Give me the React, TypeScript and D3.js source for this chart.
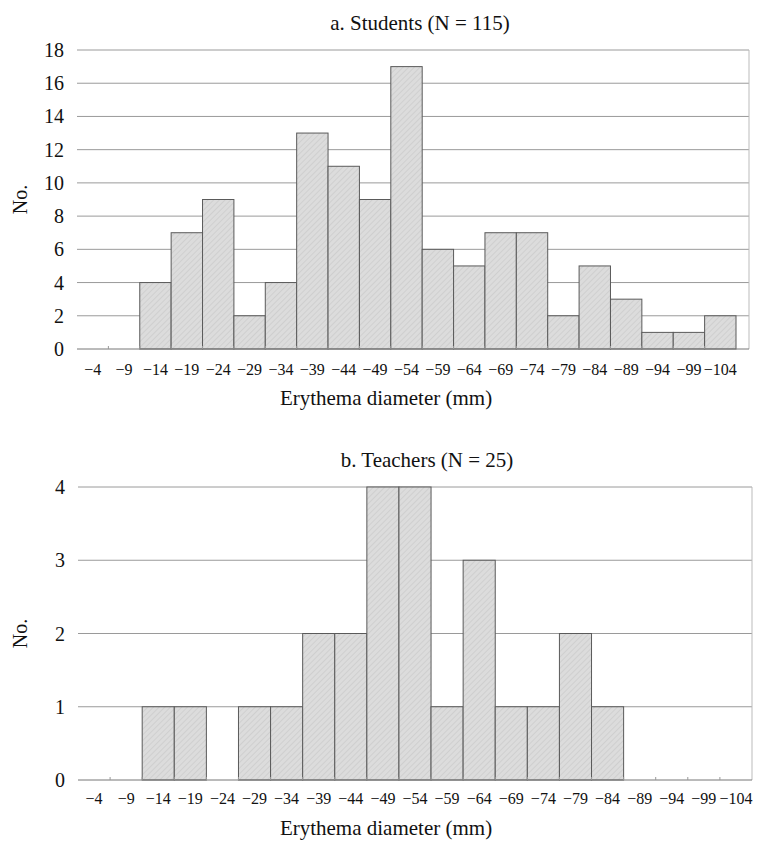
import React from "react";
import * as d3 from "d3";

// erythema diameter bins (mm)
const bins = ["−4", "−9", "−14", "−19", "−24", "−29", "−34", "−39", "−44", "−49", "−54",
  "−59", "−64", "−69", "−74", "−79", "−84", "−89", "−94", "−99", "−104"];

// counts per bin
const studentCounts = [0, 0, 4, 7, 9, 2, 4, 13, 11, 9, 17, 6, 5, 7, 7, 2, 5, 3, 1, 1, 2];
const teacherCounts = [0, 0, 1, 1, 0, 1, 1, 2, 2, 4, 4, 1, 3, 1, 1, 2, 1, 0, 0, 0, 0];

const studentTicks = [0, 2, 4, 6, 8, 10, 12, 14, 16, 18];
const teacherTicks = [0, 1, 2, 3, 4];

const FONT = "Liberation Serif, Times New Roman, serif";

type HistProps = {
  title: string;
  counts: number[];
  ticks: number[];
  left: number;
  right: number;     // right edge of plot frame
  barsRight: number; // right edge of last band
  top: number;
  bottom: number;
  titleY: number;
  tickLabelY: number;
  axisTitleY: number;
  titleX: number;
};

function Histogram(p: HistProps) {
  const x = d3.scaleBand<string>().domain(bins).range([p.left, p.barsRight]).paddingInner(0).paddingOuter(0);
  const y = d3.scaleLinear().domain([0, d3.max(p.ticks) as number]).range([p.bottom, p.top]);
  const bw = x.bandwidth();

  return (
    <g>
      <text x={p.titleX} y={p.titleY} textAnchor="middle" fontFamily={FONT} fontSize={21} fill="#111">
        {p.title}
      </text>
      {/* gridlines */}
      {p.ticks.filter(t => t > 0).map(t => (
        <line key={"g" + t} x1={p.left} x2={p.right} y1={y(t)} y2={y(t)} stroke="#9a9a9a" strokeWidth={1} />
      ))}
      {/* right frame */}
      <line x1={p.right} x2={p.right} y1={p.top} y2={p.bottom} stroke="#bbb" strokeWidth={1} />
      {/* bars */}
      {p.counts.map((c, i) => c > 0 ? (
        <rect key={"b" + i} x={x(bins[i])} y={y(c)} width={bw} height={p.bottom - y(c)}
          fill="url(#hatch)" stroke="#5a5a5a" strokeWidth={1} />
      ) : null)}
      {/* baseline */}
      <line x1={p.left} x2={p.right} y1={p.bottom} y2={p.bottom} stroke="#777" strokeWidth={1} />
      {bins.slice(1).map(b => (
        <line key={"t" + b} x1={x(b)} x2={x(b)} y1={p.bottom} y2={p.bottom - 3} stroke="#999" strokeWidth={1} />
      ))}
      {/* y tick labels */}
      {p.ticks.map(t => (
        <text key={"y" + t} x={p.left - 13} y={y(t)} dy="0.35em" textAnchor="end" fontFamily={FONT} fontSize={20} fill="#111">
          {t}
        </text>
      ))}
      {/* x tick labels */}
      {bins.map(b => (
        <text key={"x" + b} x={(x(b) as number) + bw / 2} y={p.tickLabelY} textAnchor="middle" fontFamily={FONT} fontSize={16} fill="#111">
          {b}
        </text>
      ))}
      <text x={386} y={p.axisTitleY} textAnchor="middle" fontFamily={FONT} fontSize={21} fill="#111">
        Erythema diameter (mm)
      </text>
      <text transform={`translate(27, ${(p.top + p.bottom) / 2}) rotate(-90)`} textAnchor="middle" fontFamily={FONT} fontSize={20} fill="#111">
        No.
      </text>
    </g>
  );
}

export default function App() {
  return (
    <svg width={758} height={842} style={{ position: "absolute", left: 0, top: 0, background: "#fff" }}>
      <defs>
        <pattern id="hatch" patternUnits="userSpaceOnUse" width={4} height={4} patternTransform="rotate(45)">
          <rect width={4} height={4} fill="#dcdcdc" />
          <line x1={0} y1={0} x2={0} y2={4} stroke="#c6c6c6" strokeWidth={1.2} />
        </pattern>
      </defs>
      <Histogram title="a. Students (N = 115)" counts={studentCounts} ticks={studentTicks}
        left={77} right={749} barsRight={736} top={50} bottom={349}
        titleX={420} titleY={30} tickLabelY={375} axisTitleY={405} />
      <Histogram title="b. Teachers (N = 25)" counts={teacherCounts} ticks={teacherTicks}
        left={78} right={752} barsRight={752} top={487} bottom={780}
        titleX={427} titleY={467} tickLabelY={804} axisTitleY={835} />
    </svg>
  );
}
